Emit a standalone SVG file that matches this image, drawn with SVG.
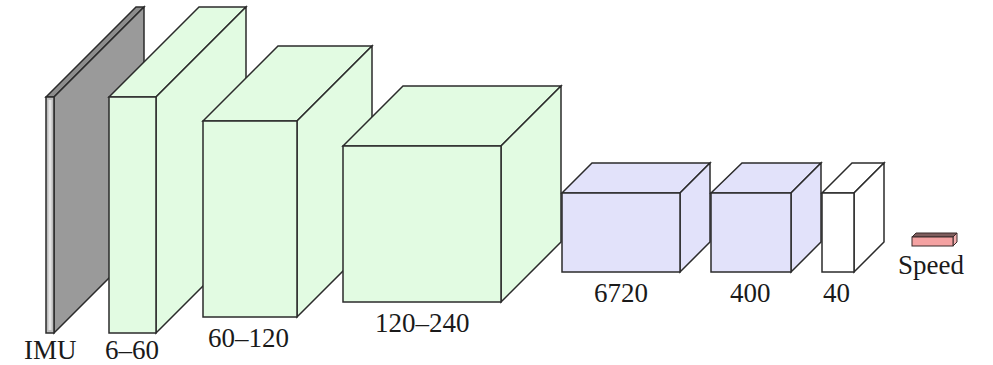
<svg xmlns="http://www.w3.org/2000/svg" width="993" height="365" viewBox="0 0 993 365">
<style>
.e{stroke:#2b2b2b;stroke-width:1.5;stroke-linejoin:miter}
.g{fill:#e2fbe2}
.b{fill:#e2e2fa}
.w{fill:#ffffff}
.lbl{font-family:"Liberation Serif","Times New Roman",serif;font-size:27px;fill:#1a1a1a}
</style>
<rect width="993" height="365" fill="#ffffff"/>
<g id="imu">
<polygon class="e" fill="#8c8c8c" points="46,97 136,7 144,7 54,97"/>
<polygon class="e" fill="#9a9a9a" points="54,97 144,7 144,243 54,333"/>
<rect class="e" fill="#bdbdbd" x="46" y="97" width="8" height="236"/>
<rect fill="#e4e4e4" x="48.5" y="100" width="3" height="230"/>
<text class="lbl" x="24" y="359">IMU</text>
</g>
<g id="conv1">
<polygon class="e g" points="109,97 199,7 246,7 156,97"/>
<polygon class="e g" points="156,97 246,7 246,243 156,333"/>
<rect class="e g" x="109" y="97" width="47" height="236"/>
<text class="lbl" x="105" y="359">6–60</text>
</g>
<g id="conv2">
<polygon class="e g" points="203,121 278,46 372,46 297,121"/>
<polygon class="e g" points="297,121 372,46 372,242 297,317"/>
<rect class="e g" x="203" y="121" width="94" height="196"/>
<text class="lbl" x="208" y="347">60–120</text>
</g>
<g id="conv3">
<polygon class="e g" points="343,146 403,86 561,86 501,146"/>
<polygon class="e g" points="501,146 561,86 561,242 501,302"/>
<rect class="e g" x="343" y="146" width="158" height="156"/>
<text class="lbl" x="375" y="332">120–240</text>
</g>
<g id="fc1">
<polygon class="e b" points="562,193 592,163 710,163 680,193"/>
<polygon class="e b" points="680,193 710,163 710,242 680,272"/>
<rect class="e b" x="562" y="193" width="118" height="79"/>
<text class="lbl" x="594" y="302">6720</text>
</g>
<g id="fc2">
<polygon class="e b" points="711,193 742,163 821,163 791,193"/>
<polygon class="e b" points="791,193 821,163 821,242 791,272"/>
<rect class="e b" x="711" y="193" width="80" height="79"/>
<text class="lbl" x="730" y="302">400</text>
</g>
<g id="fc3">
<polygon class="e w" points="822,193 852,163 884,163 854,193"/>
<polygon class="e w" points="854,193 884,163 884,242 854,272"/>
<rect class="e w" x="822" y="193" width="32" height="79"/>
<text class="lbl" x="823" y="302">40</text>
</g>
<g id="speed">
<polygon stroke="#3a2a2a" stroke-width="1" fill="#7d5c5c" points="912,237 916,233 957,233 953,237"/>
<polygon stroke="#3a2a2a" stroke-width="1" fill="#f3b0b0" points="953,237 957,233 957,242 953,246"/>
<rect stroke="#3a2a2a" stroke-width="1" fill="#f4a2a2" x="912" y="237" width="41" height="9"/>
<text class="lbl" x="898" y="274">Speed</text>
</g>
</svg>
